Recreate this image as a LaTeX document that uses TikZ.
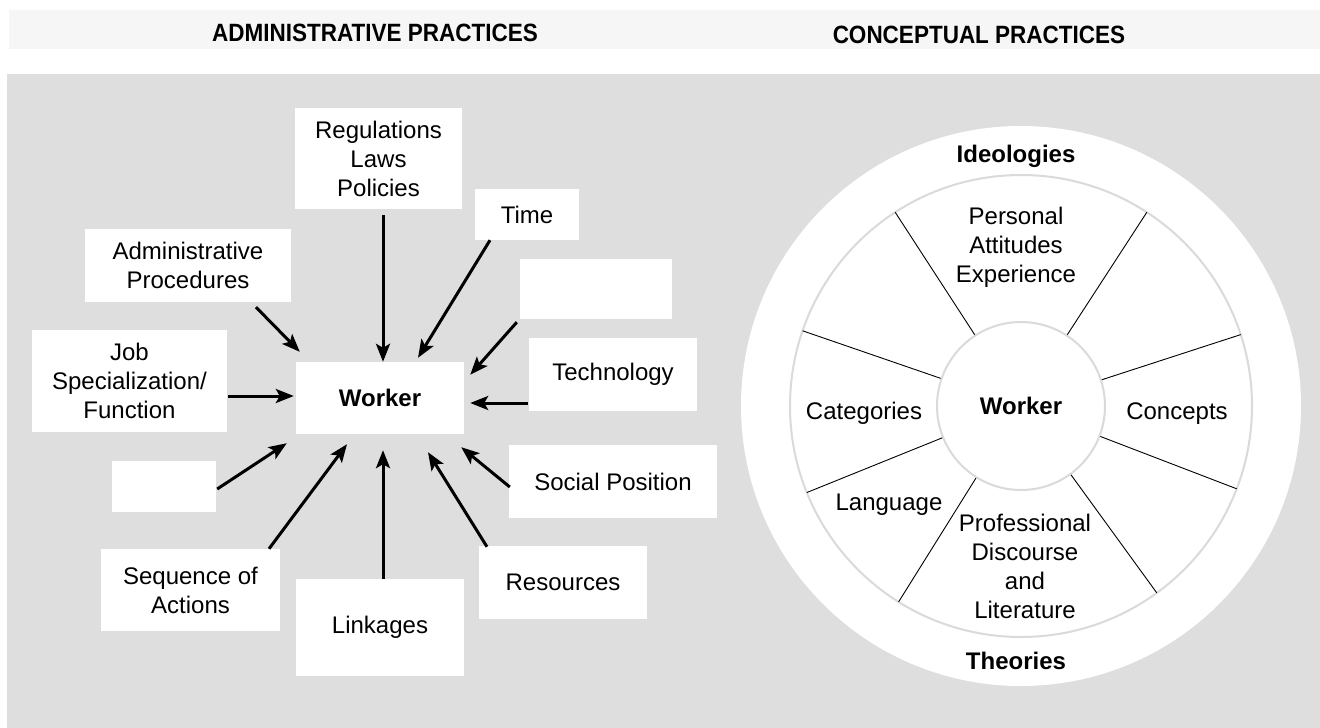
\documentclass[tikz,border=0pt]{standalone}
\usepackage{fontspec}
\setmainfont{Liberation Sans}
\newfontfamily\headfont[FakeStretch=0.9]{Liberation Sans}
\usetikzlibrary{
	arrows.meta,
}
\definecolor{panel}{RGB}{222,222,222}
\definecolor{band}{RGB}{246,246,246}
\definecolor{ringgray}{RGB}{218,218,218}
\tikzset{box/.style={fill=white,inner sep=0pt,align=center,font=\fontsize{24}{29}\selectfont,}}
\tikzset{txt/.style={inner sep=0pt,align=center,font=\fontsize{24}{29}\selectfont,}}
\tikzset{head/.style={inner sep=0pt,font=\headfont\fontsize{25}{30}\selectfont\bfseries,}}
\tikzset{hub/.style={circle,draw=ringgray,fill=white,line width=2pt,minimum size=168pt,inner sep=0pt,font=\fontsize{24}{29}\selectfont\bfseries,}}
\tikzset{ring/.style={draw=ringgray,line width=2pt}}
\tikzset{spoke/.style={line width=0.9pt}}
\tikzset{arr/.style={->,line width=3pt}}
\tikzset{
	>={Stealth[length=18pt,width=14pt,inset=4pt]},
}

\begin{document}
\begin{tikzpicture}[x=1pt,y=-1pt]
\useasboundingbox (0,0) rectangle (1320,728);
\fill[band] (9,10) rectangle (1320,49);
\fill[panel] (7,74) rectangle (1320,728);

\node[head] (hadm) at (375,33) {ADMINISTRATIVE PRACTICES};
\node[head] (hcon) at (979,35) {CONCEPTUAL PRACTICES};

\node[box,minimum width=167pt,minimum height=101pt] (regs) at (378.5,158.5) {Regulations\\Laws\\Policies};
\node[box,minimum width=104pt,minimum height=51pt] (time) at (527,214.5) {Time};
\node[box,minimum width=152pt,minimum height=60pt] (blank1) at (596,289) {};
\node[box,minimum width=168pt,minimum height=73pt] (tech) at (613,374.5) {Technology};
\node[box,minimum width=206pt,minimum height=73pt] (admin) at (188,265.5) {Administrative\\Procedures};
\node[box,minimum width=195pt,minimum height=102pt] (job) at (129.5,381) {Job\\Specialization/\\Function};
\node[box,minimum width=168pt,minimum height=72pt,font=\fontsize{24}{29}\selectfont\bfseries] (worker) at (380,398) {Worker};
\node[box,minimum width=104pt,minimum height=51pt] (blank2) at (164,486.5) {};
\node[box,minimum width=208pt,minimum height=73pt] (social) at (613,481.5) {Social Position};
\node[box,minimum width=179pt,minimum height=82pt] (seq) at (190.5,590) {Sequence of\\Actions};
\node[box,minimum width=168pt,minimum height=97pt] (link) at (380,627.5) {Linkages};
\node[box,minimum width=168pt,minimum height=73pt] (res) at (563,582.5) {Resources};

\draw[arr,shorten <=6pt] ([xshift=4.5pt]regs.south) -- ([xshift=3pt]worker.north);
\draw[arr] ([xshift=-37pt]time.south) -- ([xshift=38pt,yshift=4pt]worker.north);
\draw[arr] ([xshift=-3pt,yshift=-3pt]blank1.south west) -- ([xshift=6pt,yshift=-13pt]worker.north east);
\draw[arr] ([xshift=-1pt,yshift=-28.5pt]tech.west) -- ([xshift=6pt,yshift=-5pt]worker.east);
\draw[arr] ([xshift=68pt,yshift=-5pt]admin.south) -- ([xshift=4pt,yshift=10pt]worker.north west);
\draw[arr] ([xshift=1pt,yshift=-15pt]job.east) -- ([xshift=-2pt,yshift=2pt]worker.west);
\draw[arr] ([xshift=1pt,yshift=-2.5pt]blank2.east) -- ([xshift=-9pt,yshift=-9pt]worker.south west);
\draw[arr] ([xshift=78.5pt]seq.north) -- ([xshift=-33pt,yshift=-10pt]worker.south);
\draw[arr] ([xshift=3pt]link.north) -- ([xshift=3pt,yshift=-16pt]worker.south);
\draw[arr] ([xshift=-76pt,yshift=-1pt]res.north) -- ([xshift=48pt,yshift=-18pt]worker.south);
\draw[arr] ([xshift=1pt,yshift=-5.5pt]social.west) -- ([xshift=-3pt,yshift=-13pt]worker.south east);

\fill[white] (1021,406) circle[radius=280pt];
\draw[ring] (1021,406) circle[radius=231pt];
\node[hub] (hub) at (1021,406) {Worker};
\foreach \a in {18,57,123,161,202,238,306,339}
	\draw[spoke] (hub.\a) -- ++(\a:146pt);

\node[txt,font=\fontsize{24}{29}\selectfont\bfseries] (ideol) at (1016,156) {Ideologies};
\node[txt,font=\fontsize{24}{29}\selectfont\bfseries] (theor) at (1016,661) {Theories};
\node[txt] (pers) at (1016,247) {Personal\\Attitudes\\Experience};
\node[txt] (categ) at (864,413) {Categories};
\node[txt] (conc) at (1177,414) {Concepts};
\node[txt] (lang) at (889,505) {Language};
\node[txt] (prof) at (1025,566) {Professional\\Discourse\\and\\Literature};

\end{tikzpicture}
\end{document}
